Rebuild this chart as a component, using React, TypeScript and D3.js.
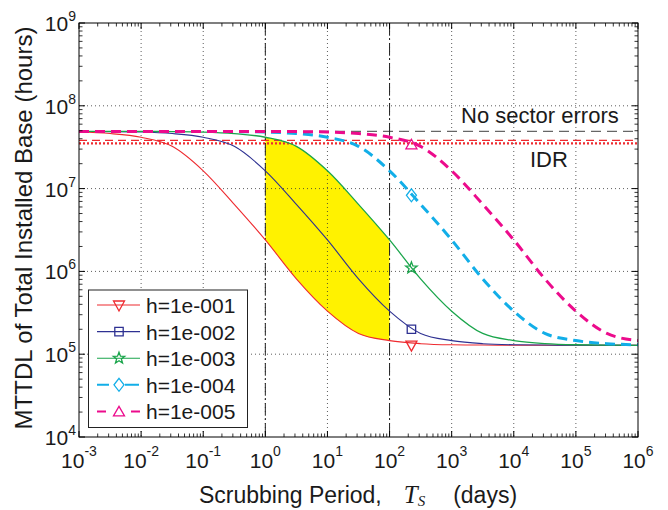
import React from 'react';
import * as d3 from 'd3';

// Scrubbing period (days), half-decade samples
const periods = [0.001, 0.00316, 0.01, 0.0316, 0.1, 0.316, 1, 3.16, 10, 31.6, 100, 316, 1000, 3160, 10000, 31600, 100000, 316000, 1000000];

const seriesLabels = ['h=1e-001', 'h=1e-002', 'h=1e-003', 'h=1e-004', 'h=1e-005'];

// MTTDL (hours)
const mttdlH1 = [4.82e7, 4.62e7, 4.17e7, 3.24e7, 1.64e7, 6.46e6, 2.4e6, 8.13e5, 3.31e5, 1.78e5, 1.46e5, 1.34e5, 1.3e5, 1.29e5, 1.28e5, 1.28e5, 1.28e5, 1.28e5, 1.28e5];
const mttdlH2 = [4.9e7, 4.88e7, 4.82e7, 4.62e7, 4.17e7, 3.24e7, 1.64e7, 6.46e6, 2.4e6, 8.13e5, 3.31e5, 1.78e5, 1.46e5, 1.34e5, 1.3e5, 1.29e5, 1.28e5, 1.28e5, 1.28e5];
const mttdlH3 = [4.9e7, 4.9e7, 4.9e7, 4.88e7, 4.82e7, 4.62e7, 4.17e7, 3.24e7, 1.64e7, 6.46e6, 2.4e6, 8.13e5, 3.31e5, 1.78e5, 1.46e5, 1.34e5, 1.3e5, 1.29e5, 1.28e5];
const mttdlH4 = [4.9e7, 4.9e7, 4.9e7, 4.9e7, 4.9e7, 4.88e7, 4.82e7, 4.62e7, 4.17e7, 3.24e7, 1.64e7, 6.46e6, 2.4e6, 8.13e5, 3.31e5, 1.78e5, 1.46e5, 1.34e5, 1.3e5];
const mttdlH5 = [4.9e7, 4.9e7, 4.9e7, 4.9e7, 4.9e7, 4.9e7, 4.9e7, 4.88e7, 4.82e7, 4.62e7, 4.17e7, 3.24e7, 1.64e7, 6.46e6, 2.4e6, 8.13e5, 3.31e5, 1.78e5, 1.46e5];

// Marker positions
const markerPeriod = 225;
const markerValues = [1.29e5, 2.0e5, 1.1e6, 8.3e6, 3.43e7];

// Reference levels
const noSectorErrors = 4.9e7;
const idrUpper = 3.83e7;
const idrLower = 3.52e7;
const boundaryPeriods = [1, 100];

// Axis ticks
const xTickExps = [-3, -2, -1, 0, 1, 2, 3, 4, 5, 6];
const yTickExps = [4, 5, 6, 7, 8, 9];

const W = 668, H = 510;
const L = 79, R = 638, T = 23, B = 437;
const FONT = '"Liberation Sans", Arial, Helvetica, sans-serif';
const SERIF = '"Liberation Serif", "Times New Roman", serif';

const colors = ['#ee2a2f', '#2e3192', '#1aa54b', '#12aee8', '#ec0b8c'];

function markerPath(kind: number): string {
  if (kind === 0) return 'M-5.5,-4L5.5,-4L0,6Z';
  if (kind === 1) return 'M-4.2,-4.2h8.4v8.4h-8.4Z';
  if (kind === 2) {
    const pts: string[] = [];
    for (let i = 0; i < 10; i++) {
      const r = i % 2 === 0 ? 6 : 2.5;
      const a = -Math.PI / 2 + (i * Math.PI) / 5;
      pts.push(`${(r * Math.cos(a)).toFixed(2)},${(r * Math.sin(a)).toFixed(2)}`);
    }
    return 'M' + pts.join('L') + 'Z';
  }
  if (kind === 3) return 'M0,-6.5L5,0L0,6.5L-5,0Z';
  return 'M0,-5L5.5,4.5L-5.5,4.5Z';
}

export default function App() {
  const x = d3.scaleLog().domain([1e-3, 1e6]).range([L, R]);
  const y = d3.scaleLog().domain([1e4, 1e9]).range([B, T]);
  const series = [mttdlH1, mttdlH2, mttdlH3, mttdlH4, mttdlH5];

  const line = d3.line<number>()
    .x((_, i) => x(periods[i]))
    .y((d) => y(d))
    .curve(d3.curveMonotoneX);

  const area = d3.area<number>()
    .x((_, i) => x(periods[i]))
    .y0((_, i) => y(mttdlH1[i]))
    .y1((_, i) => y(mttdlH3[i]))
    .curve(d3.curveMonotoneX);

  const minorX: number[] = [];
  for (let k = -3; k < 6; k++) for (let m = 2; m <= 9; m++) minorX.push(m * Math.pow(10, k));
  const minorY: number[] = [];
  for (let k = 4; k < 9; k++) for (let m = 2; m <= 9; m++) minorY.push(m * Math.pow(10, k));

  const lineStyles = [
    { w: 1.1, dash: undefined },
    { w: 1.1, dash: undefined },
    { w: 1.3, dash: undefined },
    { w: 3, dash: '10,6' },
    { w: 3, dash: '10,6' },
  ];
  const legendDash = [undefined, undefined, undefined, '12,16,14,100', '9,25,9,100'];

  const legX = 88.5, legY = 290, legW = 159, legH = 137.5;
  const rowY = (i: number) => 305 + i * 26.6;

  return (
    <svg width={W} height={H} style={{ position: 'absolute', left: 0, top: 0, display: 'block' }} fontFamily={FONT}>
      <rect x={0} y={0} width={W} height={H} fill="#fff" />
      <defs>
        <clipPath id="fillClip">
          <rect x={x(boundaryPeriods[0])} y={T} width={x(boundaryPeriods[1]) - x(boundaryPeriods[0])} height={B - T} />
        </clipPath>
        <clipPath id="plotClip">
          <rect x={L} y={T} width={R - L} height={B - T} />
        </clipPath>
      </defs>

      {/* yellow region */}
      <path d={area(mttdlH1) || ''} fill="#fff200" clipPath="url(#fillClip)" />

      {/* grid */}
      {xTickExps.slice(1, -1).map((e) => (
        <line key={'gx' + e} x1={x(Math.pow(10, e))} x2={x(Math.pow(10, e))} y1={T} y2={B} stroke="#333" strokeWidth={0.8} strokeDasharray="1,3" />
      ))}
      {yTickExps.slice(1, -1).map((e) => (
        <line key={'gy' + e} x1={L} x2={R} y1={y(Math.pow(10, e))} y2={y(Math.pow(10, e))} stroke="#333" strokeWidth={0.8} strokeDasharray="1,3" />
      ))}

      {/* reference lines */}
      <line x1={L} x2={R} y1={y(noSectorErrors)} y2={y(noSectorErrors)} stroke="#666" strokeWidth={1.3} strokeDasharray="10,6" />
      <line x1={L} x2={R} y1={y(idrUpper)} y2={y(idrUpper)} stroke="#ee2a2f" strokeWidth={1.3} strokeDasharray="8,5" />
      <line x1={L} x2={R} y1={y(idrLower)} y2={y(idrLower)} stroke="#ee2a2f" strokeWidth={2.2} strokeDasharray="2,2" />

      {boundaryPeriods.map((p) => (
        <line key={'b' + p} x1={x(p)} x2={x(p)} y1={T} y2={B} stroke="#222" strokeWidth={1} strokeDasharray="12,3,2,3" />
      ))}

      {/* curves */}
      <g clipPath="url(#plotClip)">
        {series.map((s, i) => (
          <path key={'s' + i} d={line(s) || ''} fill="none" stroke={colors[i]} strokeWidth={lineStyles[i].w} strokeDasharray={lineStyles[i].dash} />
        ))}
      </g>
      {markerValues.map((v, i) => (
        <path key={'m' + i} d={markerPath(i)} transform={`translate(${x(markerPeriod)},${y(v)})`} fill="none" stroke={colors[i]} strokeWidth={1.3} />
      ))}

      {/* frame and ticks */}
      <rect x={L} y={T} width={R - L} height={B - T} fill="none" stroke="#000" strokeWidth={1} />
      {xTickExps.map((e) => {
        const px = x(Math.pow(10, e));
        return (
          <g key={'xt' + e}>
            <line x1={px} x2={px} y1={B} y2={B - 6} stroke="#000" />
            <line x1={px} x2={px} y1={T} y2={T + 6} stroke="#000" />
          </g>
        );
      })}
      {minorX.map((v, i) => {
        const px = x(v);
        return (
          <g key={'xm' + i}>
            <line x1={px} x2={px} y1={B} y2={B - 3.5} stroke="#000" strokeWidth={0.8} />
            <line x1={px} x2={px} y1={T} y2={T + 3.5} stroke="#000" strokeWidth={0.8} />
          </g>
        );
      })}
      {yTickExps.map((e) => {
        const py = y(Math.pow(10, e));
        return (
          <g key={'yt' + e}>
            <line x1={L} x2={L + 6} y1={py} y2={py} stroke="#000" />
            <line x1={R} x2={R - 6} y1={py} y2={py} stroke="#000" />
          </g>
        );
      })}
      {minorY.map((v, i) => {
        const py = y(v);
        return (
          <g key={'ym' + i}>
            <line x1={L} x2={L + 3.5} y1={py} y2={py} stroke="#000" strokeWidth={0.8} />
            <line x1={R} x2={R - 3.5} y1={py} y2={py} stroke="#000" strokeWidth={0.8} />
          </g>
        );
      })}

      {/* tick labels */}
      {xTickExps.map((e) => (
        <text key={'xl' + e} x={x(Math.pow(10, e))} y={468} textAnchor="middle" fontSize={21} fill="#1a1a1a">
          10<tspan fontSize={14} dy={-12}>{e}</tspan>
        </text>
      ))}
      {yTickExps.map((e) => (
        <text key={'yl' + e} x={76} y={y(Math.pow(10, e)) + 8} textAnchor="end" fontSize={21} fill="#1a1a1a">
          10<tspan fontSize={14} dy={-10}>{e}</tspan>
        </text>
      ))}

      {/* annotations */}
      <text x={461} y={123} fontSize={22} fill="#1a1a1a">No sector errors</text>
      <text x={530} y={166.5} fontSize={22} fill="#1a1a1a">IDR</text>

      {/* legend */}
      <rect x={legX} y={legY} width={legW} height={legH} fill="#fff" stroke="#222" strokeWidth={1} />
      {seriesLabels.map((lab, i) => (
        <g key={'lg' + i}>
          <line x1={97} x2={140} y1={rowY(i)} y2={rowY(i)} stroke={colors[i]} strokeWidth={i < 3 ? 1.1 : 2} strokeDasharray={legendDash[i]} />
          <path d={markerPath(i)} transform={`translate(119,${rowY(i)})`} fill="none" stroke={colors[i]} strokeWidth={1.3} />
          <text x={146} y={rowY(i) + 8} fontSize={21} fill="#1a1a1a">{lab}</text>
        </g>
      ))}

      {/* axis labels */}
      <text transform="translate(32,228) rotate(-90)" textAnchor="middle" fontSize={24} fill="#1a1a1a">
        MTTDL of Total Installed Base (hours)
      </text>
      <text x={358} y={503} textAnchor="middle" fontSize={23} fill="#1a1a1a">
        Scrubbing Period,
        <tspan dx={22} fontFamily={SERIF} fontStyle="italic" fontSize={25}>T</tspan>
        <tspan dy={3} fontFamily={SERIF} fontStyle="italic" fontSize={15}>S</tspan>
        <tspan dy={-3} dx={28}>(days)</tspan>
      </text>
    </svg>
  );
}
